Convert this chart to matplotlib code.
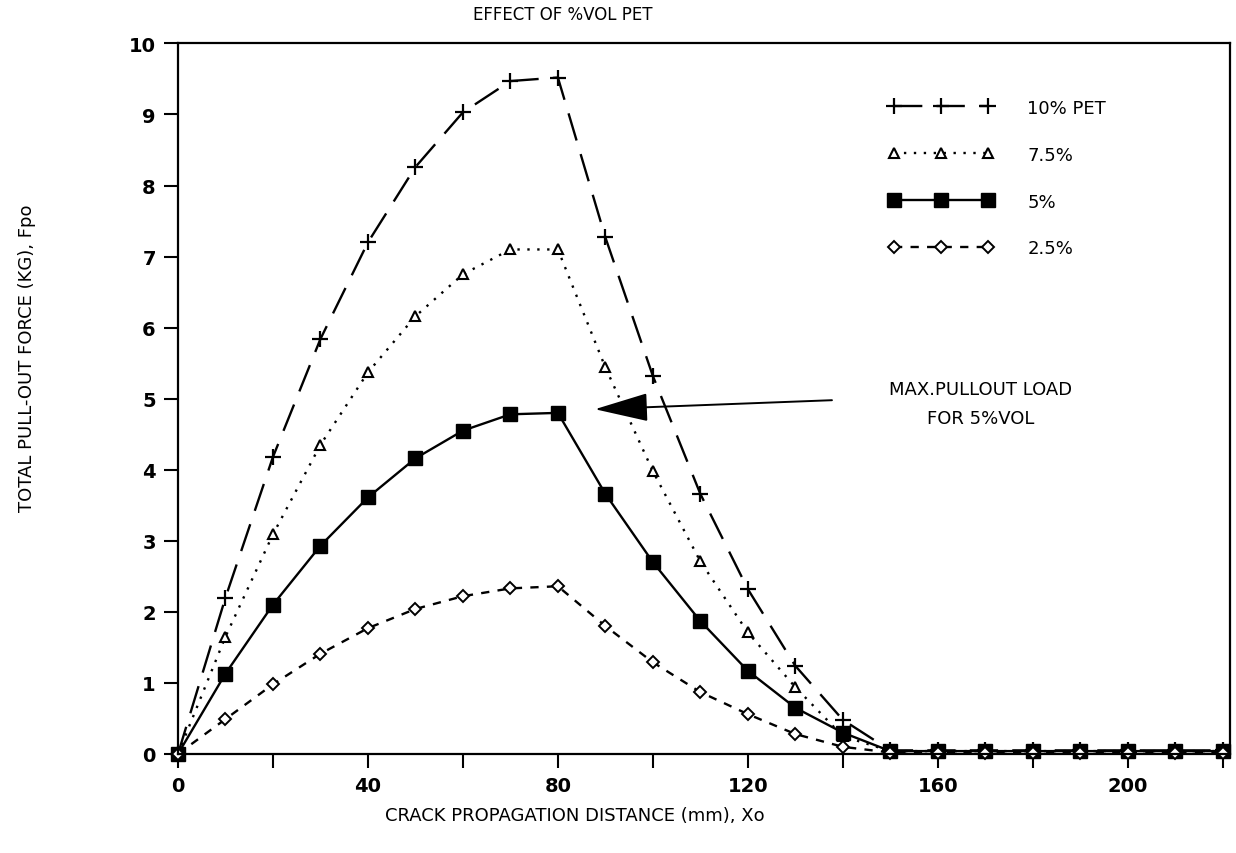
import matplotlib.pyplot as plt
import numpy as np

plt.rcParams['font.family'] = ['DejaVu Sans']

# crack propagation distance (mm)
xo = [0, 10, 20, 30, 40, 50, 60, 70, 80, 90, 100, 110, 120, 130, 140,
      150, 160, 170, 180, 190, 200, 210, 220]

# total pull-out force (kg) for each PET volume fraction
pet_10 = [0, 2.2, 4.18, 5.84, 7.2, 8.26, 9.03, 9.47, 9.52, 7.27, 5.32, 3.66, 2.32, 1.24, 0.48,
          0.05, 0.05, 0.05, 0.05, 0.05, 0.05, 0.05, 0.05]
pet_75 = [0, 1.65, 3.09, 4.35, 5.37, 6.16, 6.75, 7.1, 7.1, 5.44, 3.98, 2.71, 1.71, 0.94, 0.25,
          0.04, 0.04, 0.04, 0.04, 0.04, 0.04, 0.04, 0.04]
pet_5 = [0, 1.13, 2.1, 2.93, 3.61, 4.16, 4.55, 4.78, 4.8, 3.66, 2.7, 1.87, 1.17, 0.65, 0.3,
         0.04, 0.04, 0.04, 0.04, 0.04, 0.04, 0.04, 0.04]
pet_25 = [0, 0.49, 0.98, 1.41, 1.77, 2.04, 2.22, 2.33, 2.36, 1.8, 1.29, 0.87, 0.56, 0.28, 0.1,
          0.02, 0.02, 0.02, 0.02, 0.02, 0.02, 0.02, 0.02]

fig = plt.figure(figsize=(12.36, 8.54), dpi=100)
ax = fig.add_axes([0.144, 0.116, 0.851, 0.832])

lw = 1.7
ax.plot(xo, pet_10, color='black', lw=lw, linestyle=(0, (12, 6)),
        marker='+', ms=11, mew=1.6, label='10% PET', clip_on=False)
ax.plot(xo, pet_75, color='black', lw=lw, linestyle=(0, (1, 3.2)),
        marker='^', ms=7.5, mfc='white', mew=1.5, label='7.5%', clip_on=False)
ax.plot(xo, pet_5, color='black', lw=lw, linestyle='-',
        marker='s', ms=10, mfc='black', label='5%', clip_on=False)
ax.plot(xo, pet_25, color='black', lw=lw, linestyle=(0, (3.5, 3.5)),
        marker='D', ms=6.5, mfc='white', mew=1.4, label='2.5%', clip_on=False)

ax.set_xlim(0, 221.5)
ax.set_ylim(0, 10)
ax.set_xticks(np.arange(0, 221, 20))
ax.set_xticklabels(['0', '', '40', '', '80', '', '120', '', '160', '', '200', ''])
ax.set_yticks(np.arange(0, 11, 1))
ax.tick_params(direction='out', length=10, width=1.5, labelsize=14, pad=6)
for lab in ax.get_xticklabels() + ax.get_yticklabels():
    lab.set_fontweight('bold')
for sp in ax.spines.values():
    sp.set_linewidth(1.6)

# annotation for maximum load
ax.annotate('', xy=(87.2, 4.85), xytext=(138.3, 4.98),
            arrowprops=dict(arrowstyle='-|>,head_length=1.7,head_width=0.45',
                            mutation_scale=20, color='black', lw=1.4))
ax.text(169, 4.93, 'MAX.PULLOUT LOAD\nFOR 5%VOL', ha='center', va='center',
        fontsize=13, linespacing=1.75)

leg = ax.legend(loc='upper left', bbox_to_anchor=(0.66, 0.945), frameon=False,
                numpoints=3, handlelength=5.8, handletextpad=1.9,
                labelspacing=1.6, fontsize=13)

fig.text(0.455, 0.982, 'EFFECT OF %VOL PET', ha='center', va='center', fontsize=12)
fig.text(0.465, 0.045, 'CRACK PROPAGATION DISTANCE (mm), Xo', ha='center', va='center',
         fontsize=13)
fig.text(0.022, 0.58, 'TOTAL PULL-OUT FORCE (KG), Fpo', ha='center', va='center',
         rotation=90, fontsize=13)

fig.savefig('out.png', dpi=100)
